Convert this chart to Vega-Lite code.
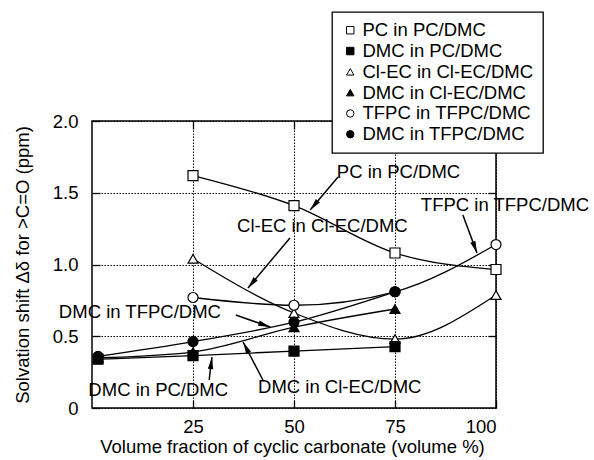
{
  "$schema": "https://vega.github.io/schema/vega-lite/v6.json",
  "width": 404,
  "height": 287,
  "autosize": "none",
  "padding": {"left": 92, "top": 121, "right": 98, "bottom": 52},
  "background": "white",
  "config": {
    "font": "Liberation Sans",
    "view": {"stroke": "black", "strokeWidth": 1.5},
    "axis": {
      "labelFont": "Liberation Sans", "labelFontSize": 18.5, "labelColor": "black",
      "titleFont": "Liberation Sans", "titleFontSize": 18.5, "titleFontWeight": "normal", "titleColor": "black",
      "domain": false, "tickColor": "black", "tickWidth": 1.3, "tickSize": -8,
      "gridColor": "black", "gridDash": [1.5, 1.5], "gridWidth": 1, "gridOpacity": 1
    },
    "legend": {
      "labelFont": "Liberation Sans", "labelFontSize": 18.5, "labelColor": "black", "labelLimit": 400,
      "strokeColor": "black", "strokeWidth": 1.3, "fillColor": "white",
      "padding": 9, "rowPadding": 1.8, "symbolSize": 55,
      "symbolStrokeColor": "black", "symbolStrokeWidth": 1, "labelOffset": 3
    }
  },
  "datasets": {
    "pts": [
      {"series": "PC in PC/DMC", "x": 25, "y": 1.62},
      {"series": "PC in PC/DMC", "x": 50, "y": 1.41},
      {"series": "PC in PC/DMC", "x": 75, "y": 1.08},
      {"series": "PC in PC/DMC", "x": 100, "y": 0.965},
      {"series": "Cl-EC in Cl-EC/DMC", "x": 25, "y": 1.04},
      {"series": "Cl-EC in Cl-EC/DMC", "x": 50, "y": 0.662},
      {"series": "Cl-EC in Cl-EC/DMC", "x": 75, "y": 0.48},
      {"series": "Cl-EC in Cl-EC/DMC", "x": 100, "y": 0.787},
      {"series": "TFPC in TFPC/DMC", "x": 25, "y": 0.77},
      {"series": "TFPC in TFPC/DMC", "x": 50, "y": 0.716},
      {"series": "TFPC in TFPC/DMC", "x": 75, "y": 0.81},
      {"series": "TFPC in TFPC/DMC", "x": 100, "y": 1.139},
      {"series": "DMC in Cl-EC/DMC", "x": 1.5, "y": 0.35},
      {"series": "DMC in Cl-EC/DMC", "x": 25, "y": 0.39},
      {"series": "DMC in Cl-EC/DMC", "x": 50, "y": 0.563},
      {"series": "DMC in Cl-EC/DMC", "x": 75, "y": 0.69},
      {"series": "DMC in TFPC/DMC", "x": 1.5, "y": 0.36},
      {"series": "DMC in TFPC/DMC", "x": 25, "y": 0.463},
      {"series": "DMC in TFPC/DMC", "x": 50, "y": 0.598},
      {"series": "DMC in TFPC/DMC", "x": 75, "y": 0.81},
      {"series": "DMC in PC/DMC", "x": 1.5, "y": 0.34},
      {"series": "DMC in PC/DMC", "x": 25, "y": 0.365},
      {"series": "DMC in PC/DMC", "x": 50, "y": 0.397},
      {"series": "DMC in PC/DMC", "x": 75, "y": 0.428}
    ],
    "notes": [
      {"label": "PC in PC/DMC", "x": 60.6, "y": 1.647},
      {"label": "Cl-EC in Cl-EC/DMC", "x": 35.9, "y": 1.268},
      {"label": "TFPC in TFPC/DMC", "x": 81.4, "y": 1.415},
      {"label": "DMC in TFPC/DMC", "x": -8.2, "y": 0.669},
      {"label": "DMC in PC/DMC", "x": -0.9, "y": 0.125},
      {"label": "DMC in Cl-EC/DMC", "x": 41.1, "y": 0.146}
    ],
    "arrows": [
      {"x0": 60.9, "y0": 1.61, "x1": 54, "y1": 1.38},
      {"x0": 49, "y0": 1.185, "x1": 38.6, "y1": 0.836},
      {"x0": 91.8, "y0": 1.345, "x1": 95.3, "y1": 1.08},
      {"x0": 35.6, "y0": 0.648, "x1": 44.1, "y1": 0.564},
      {"x0": 29, "y0": 0.195, "x1": 29.7, "y1": 0.355},
      {"x0": 42.3, "y0": 0.195, "x1": 37.4, "y1": 0.46}
    ]
  },
  "layer": [
    {
      "data": {"name": "pts"},
      "mark": {"type": "line", "interpolate": "monotone", "color": "black", "strokeWidth": 1.3},
      "encoding": {
        "x": {"field": "x", "type": "quantitative", "scale": {"domain": [0, 100]},
          "axis": {"orient": "bottom", "values": [25, 50, 75, 100], "labelPadding": 17,
            "titleX": 200, "titleY": 38, "titleAlign": "center", "titleBaseline": "middle",
            "title": "Volume fraction of cyclic carbonate (volume %)"}},
        "y": {"field": "y", "type": "quantitative", "scale": {"domain": [0, 2]},
          "axis": {"orient": "left", "values": [0, 0.5, 1, 1.5, 2], "labelPadding": 22,
            "titleX": -70, "titleY": 143.5, "titleAngle": -90, "titleAlign": "center", "titleBaseline": "middle",
            "labelExpr": "datum.value === 0 ? '0' : format(datum.value, '.1f')",
            "title": "Solvation shift Δδ for >C=O (ppm)"}},
        "detail": {"field": "series", "type": "nominal"}
      }
    },
    {
      "data": {"name": "arrows"},
      "mark": {"type": "rule", "color": "black", "strokeWidth": 1.5},
      "encoding": {
        "x": {"field": "x0", "type": "quantitative", "scale": {"domain": [0, 100]}, "axis": null},
        "y": {"field": "y0", "type": "quantitative", "scale": {"domain": [0, 2]}, "axis": null},
        "x2": {"field": "x1"},
        "y2": {"field": "y1"}
      }
    },
    {
      "data": {"name": "arrows"},
      "transform": [{"calculate": "atan2((datum.x1-datum.x0)*4.04,(datum.y1-datum.y0)*143.5)*180/PI", "as": "ang"}],
      "mark": {"type": "point", "shape": "M0,0L0.45,2L-0.45,2Z", "filled": true, "color": "black", "size": 144, "opacity": 1},
      "encoding": {
        "x": {"field": "x1", "type": "quantitative", "scale": {"domain": [0, 100]}, "axis": null},
        "y": {"field": "y1", "type": "quantitative", "scale": {"domain": [0, 2]}, "axis": null},
        "angle": {"field": "ang", "type": "quantitative", "scale": null}
      }
    },
    {
      "data": {"name": "pts"},
      "mark": {"type": "point", "filled": false, "strokeWidth": 1.2, "size": 100, "opacity": 1},
      "encoding": {
        "x": {"field": "x", "type": "quantitative", "scale": {"domain": [0, 100]}, "axis": null},
        "y": {"field": "y", "type": "quantitative", "scale": {"domain": [0, 2]}, "axis": null},
        "shape": {"field": "series", "type": "nominal",
          "scale": {"domain": ["PC in PC/DMC", "DMC in PC/DMC", "Cl-EC in Cl-EC/DMC", "DMC in Cl-EC/DMC", "TFPC in TFPC/DMC", "DMC in TFPC/DMC"],
            "range": ["square", "square", "triangle-up", "triangle-up", "circle", "circle"]},
          "legend": {"orient": "none", "legendX": 240, "legendY": -109, "title": null}},
        "fill": {"field": "series", "type": "nominal",
          "scale": {"domain": ["PC in PC/DMC", "DMC in PC/DMC", "Cl-EC in Cl-EC/DMC", "DMC in Cl-EC/DMC", "TFPC in TFPC/DMC", "DMC in TFPC/DMC"],
            "range": ["white", "black", "white", "black", "white", "black"]},
          "legend": {"orient": "none", "legendX": 240, "legendY": -109, "title": null}},
        "stroke": {"field": "series", "type": "nominal",
          "scale": {"domain": ["PC in PC/DMC", "DMC in PC/DMC", "Cl-EC in Cl-EC/DMC", "DMC in Cl-EC/DMC", "TFPC in TFPC/DMC", "DMC in TFPC/DMC"],
            "range": ["black", "black", "black", "black", "black", "black"]},
          "legend": {"orient": "none", "legendX": 240, "legendY": -109, "title": null}}
      }
    },
    {
      "data": {"name": "notes"},
      "mark": {"type": "text", "align": "left", "baseline": "middle", "font": "Liberation Sans", "fontSize": 18.5, "color": "black"},
      "encoding": {
        "x": {"field": "x", "type": "quantitative", "scale": {"domain": [0, 100]}, "axis": null},
        "y": {"field": "y", "type": "quantitative", "scale": {"domain": [0, 2]}, "axis": null},
        "text": {"field": "label", "type": "nominal"}
      }
    },
    {
      "data": {"name": "pts"},
      "mark": {"type": "point", "opacity": 0},
      "encoding": {
        "x": {"field": "x", "type": "quantitative", "scale": {"domain": [0, 100]},
          "axis": {"orient": "top", "values": [25, 50, 75], "labels": false, "grid": false, "title": null}},
        "y": {"field": "y", "type": "quantitative", "scale": {"domain": [0, 2]},
          "axis": {"orient": "right", "values": [0.5, 1, 1.5], "labels": false, "grid": false, "title": null}}
      }
    }
  ],
  "resolve": {"axis": {"x": "independent", "y": "independent"}}
}
